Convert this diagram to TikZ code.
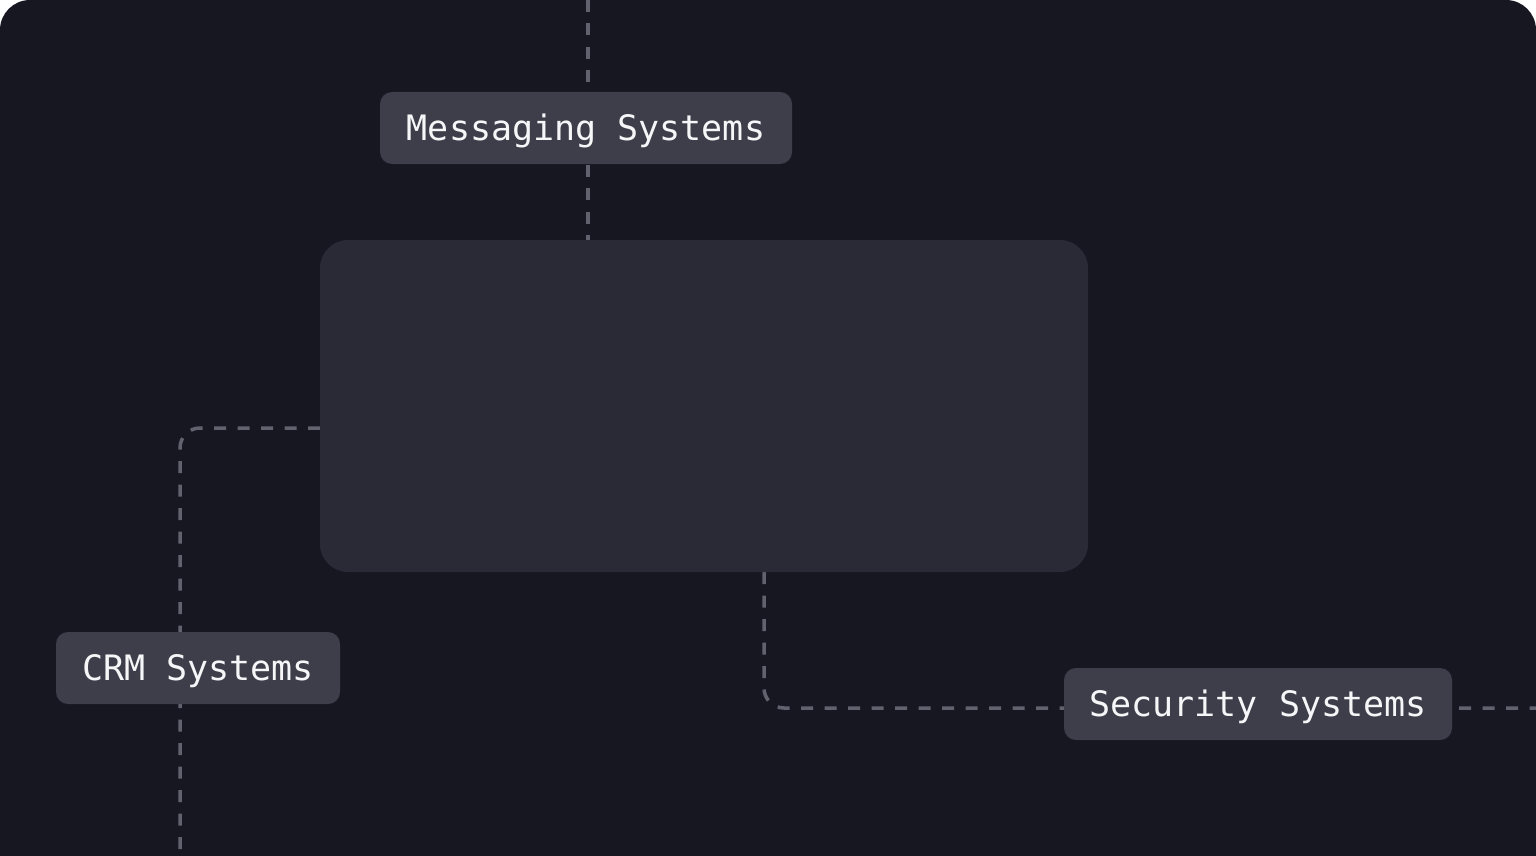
\documentclass[tikz,border=0pt]{standalone}
\usepackage{fontspec}
\newfontfamily\monof{DejaVu Sans Mono}
\definecolor{bgdark}{HTML}{171722}
\definecolor{mainfill}{HTML}{2A2A36}
\definecolor{lblfill}{HTML}{3E3E4A}
\definecolor{linecol}{HTML}{62626E}
\definecolor{txtcol}{HTML}{F6F6F8}
\begin{document}
\begin{tikzpicture}[x=1pt,y=-1pt,
  conn/.style={draw=linecol, line width=3.5pt, dash pattern=on 12pt off 11.5pt, rounded corners=20pt},
  mainbox/.style={fill=mainfill, rounded corners=28pt, inner sep=0pt, minimum width=768pt, minimum height=332pt},
  lbl/.style={fill=lblfill, rounded corners=12pt, inner sep=0pt, minimum height=72pt,
    font=\monof\fontsize{35}{40}\selectfont, text=txtcol, text height=25.5pt, text depth=0pt}]
\useasboundingbox (0,0) rectangle (1536,856);
\fill[white] (0,0) rectangle (1536,856);
\fill[bgdark] (0,856) [rounded corners=30pt] -- (0,0) -- (1536,0) [sharp corners] -- (1536,856) -- cycle;
% named ends
\coordinate (msgtop) at (588,0);
\coordinate (crmend) at (180,856);
\coordinate (secend) at (1536,708);
\coordinate (mainleft) at (320,428);
\coordinate (mainbot) at (764,572);
\coordinate (maintop) at (588,240);
% connectors
\draw[conn] (msgtop) -- (maintop);
\draw[conn] (mainleft) -| (crmend);
\draw[conn] (mainbot) |- (secend);
% boxes
\node[mainbox] (main) at (704,406) {};
\node[lbl, minimum width=412pt] (msg) at (586,128) {Messaging Systems};
\node[lbl, minimum width=284pt] (crm) at (198,668) {CRM Systems};
\node[lbl, minimum width=388pt] (sec) at (1258,704) {Security Systems};
\end{tikzpicture}
\end{document}
